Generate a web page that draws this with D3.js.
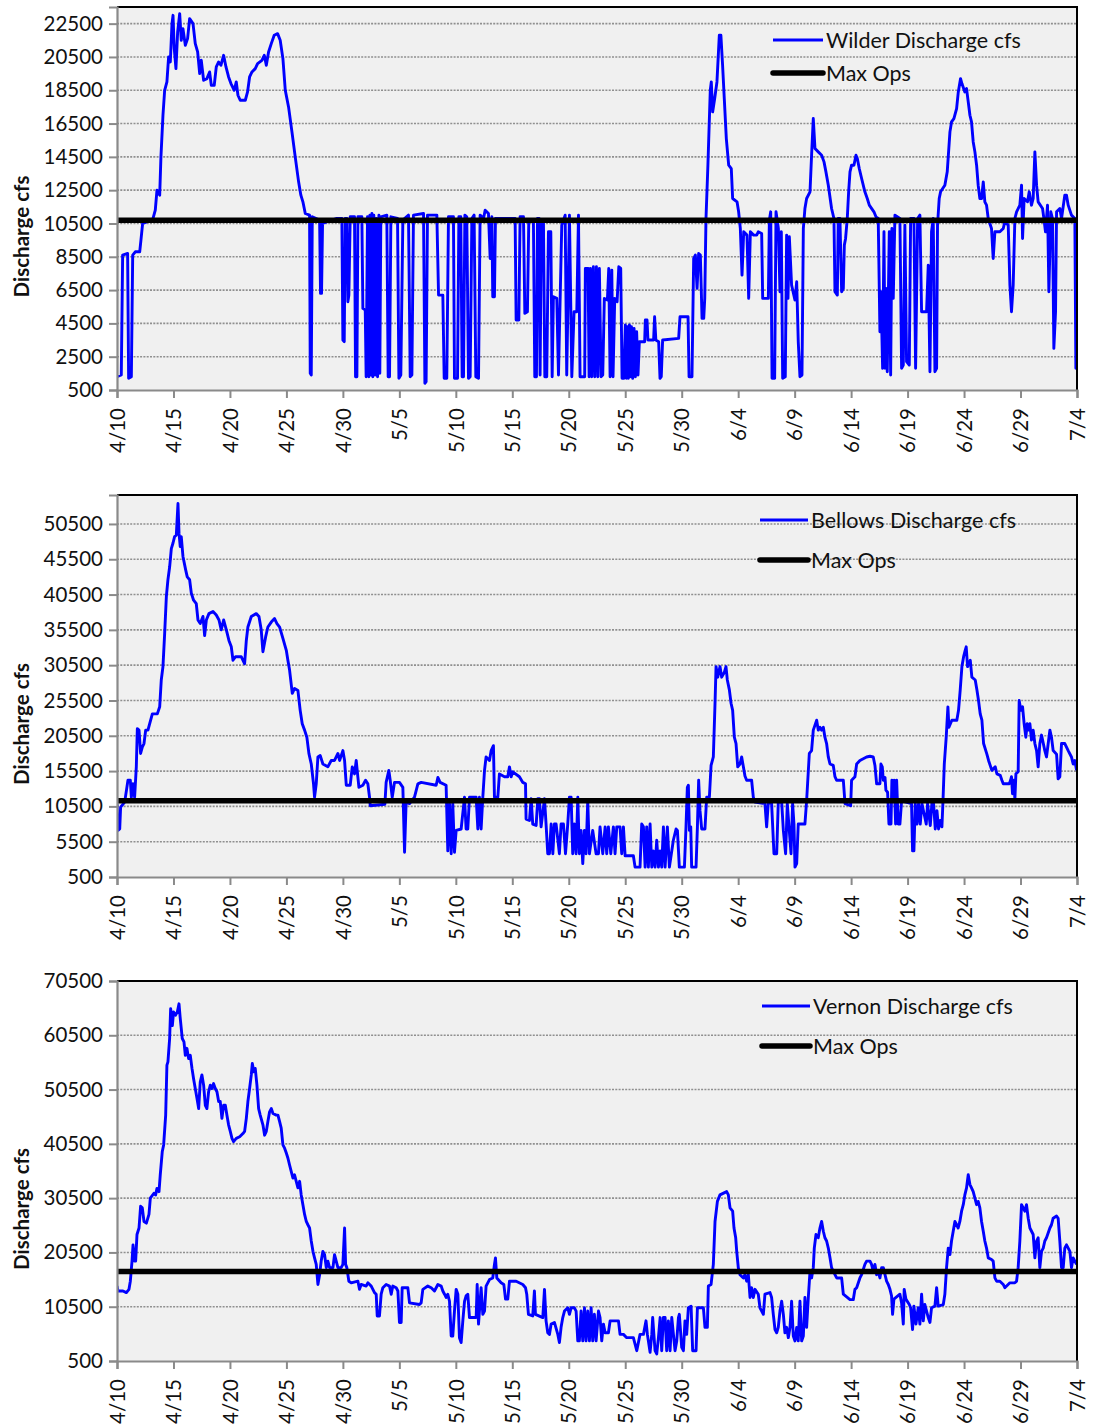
<!DOCTYPE html>
<html>
<head>
<meta charset="utf-8">
<script src="https://cdn.jsdelivr.net/npm/d3@7/dist/d3.min.js"></script>
<style>
  html, body { margin: 0; padding: 0; background: #ffffff; }
  svg { display: block; }
  text { font-family: Lato, "Open Sans", sans-serif; fill: #111; }
</style>
</head>
<body>
<svg id="chart" width="1093" height="1427"></svg>
<script>
// ---------------- DATA ----------------
// Dates on the x axis, one tick every 5 days starting 4/10
const dateLabels = ["4/10","4/15","4/20","4/25","4/30","5/5","5/10","5/15","5/20","5/25","5/30","6/4","6/9","6/14","6/19","6/24","6/29","7/4"];
const tickStepDays = 5;

// Max Ops levels (cfs) for Wilder, Bellows, Vernon
const maxOps = [10700, 11300, 17000];

// Y tick values for each panel
const wilderTicks  = [500,2500,4500,6500,8500,10500,12500,14500,16500,18500,20500,22500];
const bellowsTicks = [500,5500,10500,15500,20500,25500,30500,35500,40500,45500,50500];
const vernonTicks  = [500,10500,20500,30500,40500,50500,60500,70500];
const yMaxes = [23500, 54600, 70500];

// Series: [days since 4/10, discharge cfs]
const wilder = [
[0.00,1300],[0.38,1400],[0.50,8600],[0.94,8700],[1.03,1200],[1.27,1300],[1.39,8600],[1.62,8800],[2.01,8800],[2.12,9500],
[2.27,10500],[2.65,10600],[3.19,10800],[3.39,11300],[3.54,12500],[3.78,12200],[3.89,14500],[4.07,17000],[4.22,18500],[4.42,19000],
[4.57,20500],[4.72,20200],[4.87,22500],[4.96,23000],[5.07,21000],[5.22,19800],[5.37,22000],[5.55,23100],[5.69,21500],[5.84,22200],
[6.05,21200],[6.25,21600],[6.43,22800],[6.73,22500],[6.93,21300],[7.14,20800],[7.32,19500],[7.46,20300],[7.67,19100],[7.96,19200],
[8.20,19600],[8.35,18800],[8.61,18800],[8.79,19900],[9.00,20200],[9.20,20000],[9.44,20600],[9.65,19900],[9.88,19300],[10.09,18900],
[10.38,18500],[10.56,19000],[10.71,18200],[10.91,17900],[11.36,17900],[11.56,18400],[11.74,19300],[11.95,19600],[12.24,19800],[12.45,20100],
[12.83,20300],[13.04,20600],[13.22,20000],[13.42,20800],[13.66,21300],[13.92,21800],[14.22,21900],[14.45,21500],[14.69,20400],[14.90,18500],
[15.19,17500],[15.49,16000],[15.78,14500],[16.08,13000],[16.28,12200],[16.46,11800],[16.67,11100],[17.05,11000],[17.11,1500],[17.20,1400],
[17.29,10900],[17.94,10700],[18.02,6300],[18.11,6300],[18.20,10500],[19.47,10800],[19.91,10800],[20.00,3500],[20.12,3400],[20.21,10800],
[20.35,10800],[20.44,5800],[20.53,6200],[20.65,10900],[21.03,10900],[21.12,1300],[21.24,1300],[21.33,10900],[21.68,10900],[21.77,5400],
[21.98,5300],[22.06,1300],[22.18,10900],[22.30,1300],[22.39,11000],[22.48,1400],[22.57,11100],[22.65,1300],[22.74,11000],[22.86,1400],
[22.95,10800],[23.07,1300],[23.19,11000],[23.27,1500],[23.36,10900],[23.89,11000],[24.01,1300],[24.13,1300],[24.25,10900],[24.84,10800],
[24.96,1200],[25.13,1400],[25.31,10700],[25.81,11000],[25.96,1300],[26.11,1400],[26.25,11000],[27.14,11100],[27.26,900],[27.37,1000],
[27.49,11000],[28.32,11000],[28.47,6200],[28.85,6200],[28.97,1200],[29.20,1200],[29.35,10900],[29.79,10900],[29.88,1200],[30.15,1200],
[30.27,10900],[30.44,10900],[30.56,1300],[30.68,1300],[30.80,11000],[30.97,10900],[31.12,1200],[31.27,1300],[31.42,10800],[31.62,11000],
[31.77,1300],[32.01,1200],[32.15,11000],[32.45,10800],[32.60,11300],[32.89,11100],[33.04,8400],[33.19,10900],[33.27,6100],[33.42,6100],
[33.51,10800],[35.10,10800],[35.25,10800],[35.34,4700],[35.58,4700],[35.69,10900],[35.99,10900],[36.11,5100],[36.34,5200],[36.46,10700],
[36.87,10700],[36.99,1300],[37.14,1300],[37.23,10800],[37.37,10800],[37.46,1400],[37.58,10700],[37.76,10500],[37.88,1300],[38.05,1300],
[38.20,10000],[38.41,10000],[38.53,1300],[38.64,6100],[38.94,6000],[39.09,1400],[39.38,10400],[39.68,11000],[39.82,1400],[40.06,11000],
[40.27,1300],[40.47,5200],[40.71,5200],[40.86,11000],[41.00,1300],[41.24,1300],[41.41,1300],[41.47,7800],[41.71,7800],[41.80,1300],
[41.92,7800],[42.03,1300],[42.18,7900],[42.30,1300],[42.45,7900],[42.57,1300],[42.71,7800],[42.86,1300],[43.01,1400],[43.15,6000],
[43.42,5900],[43.54,7800],[43.66,1300],[43.81,7700],[43.92,1300],[44.07,6000],[44.28,5800],[44.43,7900],[44.60,7800],[44.72,1200],
[44.87,1200],[45.01,4400],[45.10,1200],[45.19,4300],[45.28,1200],[45.37,4400],[45.46,1300],[45.55,4300],[45.66,1200],[45.78,4200],
[45.90,1300],[46.01,4000],[46.13,1400],[46.25,3400],[46.72,3400],[46.78,4700],[46.93,4700],[47.01,3500],[47.51,3500],[47.60,4900],
[47.71,3500],[47.96,3400],[48.08,1200],[48.19,1300],[48.31,3500],[49.73,3600],[49.85,4900],[50.56,4900],[50.65,1300],[50.91,1300],
[51.06,8400],[51.21,8600],[51.36,6600],[51.50,8700],[51.65,8600],[51.80,4800],[51.95,4800],[52.04,6000],[52.15,10800],[52.32,14000],
[52.53,18500],[52.62,19000],[52.74,17200],[52.92,18000],[53.12,19000],[53.33,21800],[53.47,21800],[53.62,20000],[53.77,18000],[53.95,15600],
[54.16,14000],[54.39,13800],[54.51,12000],[54.90,11800],[55.04,11200],[55.19,10200],[55.34,7400],[55.49,10000],[55.78,9800],[55.93,6000],
[56.08,10000],[56.37,9800],[56.64,9800],[56.78,10000],[57.08,9900],[57.17,6000],[57.67,6000],[57.76,10700],[57.88,11200],[58.00,1200],
[58.23,1200],[58.35,11200],[58.56,10200],[58.70,6400],[58.82,10000],[58.94,1200],[59.17,1300],[59.29,9800],[59.41,6000],[59.53,9700],
[59.73,6800],[60.03,5900],[60.18,7000],[60.32,3400],[60.47,1300],[60.65,1400],[60.77,10200],[60.91,11400],[61.06,12000],[61.36,12400],
[61.50,14600],[61.65,16800],[61.80,15000],[62.09,14800],[62.39,14600],[62.60,14200],[62.77,13600],[62.98,12800],[63.27,11400],[63.48,10800],
[63.57,6400],[63.78,6200],[63.86,10800],[64.01,10800],[64.16,6400],[64.31,6600],[64.40,9200],[64.51,9600],[64.66,10800],[64.78,12400],
[64.90,13600],[65.04,14000],[65.25,14000],[65.43,14600],[65.55,14400],[65.72,13800],[65.93,13200],[66.22,12400],[66.43,12000],[66.61,11600],
[67.02,11200],[67.20,10900],[67.40,10800],[67.55,4000],[67.64,6400],[67.79,1800],[67.91,10000],[68.00,1800],[68.08,6600],[68.20,1600],
[68.38,10000],[68.50,1400],[68.61,10200],[68.73,6000],[68.88,11000],[69.32,10800],[69.47,1800],[69.62,2000],[69.76,10400],[69.91,2200],
[70.15,2000],[70.27,10800],[70.56,10800],[70.71,1800],[70.89,10800],[71.09,11000],[71.24,5200],[71.68,5200],[71.83,8000],[71.98,1600],
[72.12,10000],[72.27,10800],[72.42,1600],[72.57,1800],[72.65,10400],[72.80,12000],[72.92,12400],[73.30,12800],[73.51,13600],[73.75,16000],
[73.89,16600],[74.10,16800],[74.34,17400],[74.49,18400],[74.69,19200],[74.81,18900],[75.07,18400],[75.22,18600],[75.37,17800],[75.52,17000],
[75.66,16600],[75.81,15400],[75.96,14800],[76.11,14000],[76.25,12800],[76.40,12000],[76.55,12000],[76.70,13000],[76.84,11800],[76.99,11600],
[77.14,10800],[77.43,10200],[77.58,8400],[77.73,10000],[78.17,10000],[78.47,10200],[78.61,10600],[78.91,10400],[79.06,6800],[79.20,5200],
[79.35,6800],[79.50,10800],[79.65,11200],[79.94,11600],[80.09,12800],[80.18,9600],[80.32,12000],[80.62,11800],[80.77,12400],[80.97,11600],
[81.12,12000],[81.27,14800],[81.42,12800],[81.56,11800],[81.95,11400],[82.07,10800],[82.21,10000],[82.39,11600],[82.51,6400],[82.68,11200],
[82.83,10800],[82.95,3000],[83.10,5200],[83.19,11200],[83.48,11400],[83.63,10800],[83.92,12200],[84.07,12200],[84.22,11600],[84.51,11000],
[84.81,10800],[84.90,1800],[84.96,2000]
];

const bellows = [
[0.00,10900],[0.09,7100],[0.24,7300],[0.32,10400],[0.68,11100],[0.97,14200],[1.18,14200],[1.27,11800],[1.42,13700],[1.56,11800],
[1.71,16100],[1.80,21500],[1.95,21300],[2.09,18000],[2.24,18900],[2.39,19400],[2.54,21300],[2.74,21300],[2.89,22200],[3.13,23600],
[3.57,23600],[3.78,24600],[3.92,28400],[4.07,30300],[4.22,35000],[4.37,40200],[4.51,42600],[4.66,44400],[4.81,47000],[4.96,47800],
[5.10,48700],[5.25,48900],[5.40,53400],[5.49,49200],[5.60,47300],[5.69,48700],[5.84,45900],[6.08,44000],[6.22,43000],[6.43,42600],
[6.58,40700],[6.78,39700],[7.02,39200],[7.17,36900],[7.37,36400],[7.61,37400],[7.76,34700],[7.91,36900],[8.14,37800],[8.50,38100],
[8.79,37600],[9.03,36900],[9.23,35500],[9.44,36900],[9.68,35500],[9.91,34000],[10.12,33100],[10.27,31200],[10.50,31700],[11.00,31700],
[11.30,30700],[11.45,34000],[11.59,35900],[11.89,37400],[12.33,37800],[12.57,37400],[12.77,35500],[12.92,32400],[13.16,34500],[13.36,35900],
[13.66,36600],[13.95,37100],[14.16,36400],[14.40,35900],[14.69,34300],[14.99,32600],[15.13,31200],[15.28,29800],[15.52,26500],[15.72,27200],
[16.02,26900],[16.22,24100],[16.40,22200],[16.61,21300],[16.81,20300],[16.99,18000],[17.20,16500],[17.40,13700],[17.49,11800],[17.64,13700],
[17.79,17500],[17.99,17700],[18.23,16500],[18.67,16100],[18.97,17000],[19.26,17000],[19.56,18000],[19.71,17000],[20.00,18400],[20.15,17000],
[20.30,13500],[20.65,13500],[20.83,16100],[21.03,15100],[21.18,17000],[21.33,14600],[21.42,13200],[21.77,13500],[22.01,14200],[22.21,13700],
[22.36,11800],[22.42,10600],[23.72,10800],[23.83,13900],[24.07,15600],[24.19,14200],[24.37,11800],[24.57,13900],[25.01,13900],[25.31,13200],
[25.46,4000],[25.60,11100],[25.90,10900],[26.34,11800],[26.64,13700],[26.93,13900],[28.26,13500],[28.41,14600],[28.61,13900],[29.14,13500],
[29.29,4200],[29.44,10900],[29.59,3800],[29.73,10900],[29.88,4000],[30.03,7100],[30.47,7300],[30.77,11800],[30.91,7300],[31.06,7300],
[31.21,11800],[31.80,11800],[31.95,7300],[32.09,11800],[32.24,7300],[32.39,11800],[32.54,15600],[32.68,17500],[32.98,17000],[33.13,18400],
[33.33,19100],[33.42,11800],[33.72,11800],[33.86,15100],[34.31,14700],[34.60,14700],[34.75,16100],[34.90,14700],[35.04,15400],[35.63,14700],
[35.93,13900],[36.17,13700],[36.22,8700],[36.52,8500],[36.67,11600],[36.81,8000],[37.11,7800],[37.26,11600],[37.40,11600],[37.55,7600],
[37.85,11600],[37.99,8000],[38.14,3800],[38.29,3800],[38.44,8000],[38.59,3800],[38.73,8000],[38.88,8000],[39.17,3800],[39.32,8000],
[39.53,8000],[39.71,3800],[39.91,8000],[40.06,11800],[40.21,11800],[40.35,3800],[40.50,8000],[40.65,3800],[40.80,11800],[40.94,3800],
[41.09,7100],[41.24,2400],[41.39,7100],[41.53,3800],[41.68,11300],[41.83,3800],[42.12,7100],[42.42,3800],[42.63,3800],[42.77,7600],
[43.01,3800],[43.22,7600],[43.36,3800],[43.51,7600],[43.72,3800],[43.95,7600],[44.10,3800],[44.25,7600],[44.54,7600],[44.69,3800],
[44.84,7600],[44.99,3500],[45.72,3500],[45.87,1900],[46.31,1900],[46.46,8000],[46.61,7600],[46.76,1900],[46.90,7600],[47.05,1900],
[47.20,8000],[47.35,1900],[47.49,4200],[47.64,1900],[47.79,5700],[47.94,1900],[48.09,4200],[48.23,1900],[48.38,7600],[48.53,1900],
[48.73,7600],[48.91,1900],[49.26,5700],[49.50,7300],[49.62,7100],[49.79,1900],[50.24,1900],[50.38,7600],[50.50,13200],[50.59,13500],
[50.68,7100],[50.80,7600],[50.88,1900],[51.27,1900],[51.39,7600],[51.50,14200],[51.62,9900],[51.77,7300],[52.06,7300],[52.21,11800],
[52.45,11800],[52.60,16300],[52.80,17500],[52.95,25100],[53.04,30300],[53.19,28800],[53.39,30300],[53.54,28800],[53.78,29500],[53.92,30300],
[54.04,28400],[54.22,27000],[54.37,25100],[54.51,24100],[54.66,20300],[54.81,19400],[54.96,16100],[55.16,16500],[55.31,17500],[55.46,16100],
[55.60,14800],[55.75,14200],[56.19,14200],[56.34,11800],[56.49,11100],[57.37,10900],[57.52,7600],[57.67,11100],[57.96,10900],[58.17,3800],
[58.41,3800],[58.55,11100],[58.85,11100],[59.00,7100],[59.20,3800],[59.35,10900],[59.50,7600],[59.68,3800],[59.82,10900],[59.94,8000],
[60.03,1900],[60.18,2400],[60.32,8000],[60.91,8000],[61.06,11300],[61.30,18000],[61.50,18400],[61.65,21300],[61.95,22700],[62.09,21300],
[62.24,21700],[62.39,21300],[62.54,21700],[62.68,20300],[62.83,19400],[62.98,17500],[63.13,16500],[63.42,16300],[63.57,14700],[63.72,14200],
[64.31,14200],[64.46,10900],[64.96,10600],[65.04,14200],[65.34,14700],[65.49,16500],[65.78,17000],[66.37,17500],[66.67,17600],[66.96,17500],
[67.11,16300],[67.26,13700],[67.55,13700],[67.64,16500],[67.76,16100],[67.85,14200],[68.00,14600],[68.08,12800],[68.23,12500],[68.35,8000],
[68.53,8000],[68.61,14200],[68.73,11300],[68.82,14200],[68.94,8000],[69.03,14200],[69.17,8000],[69.32,8000],[69.47,11300],[70.35,10900],
[70.44,4200],[70.56,4200],[70.68,10900],[70.83,8000],[70.97,10900],[71.12,8000],[71.27,10900],[71.65,8000],[71.77,10900],[72.01,7800],
[72.15,10900],[72.30,10900],[72.45,7300],[72.60,9900],[72.74,7300],[72.89,8500],[73.04,7600],[73.13,11100],[73.25,16500],[73.42,20300],
[73.57,24600],[73.66,21700],[73.92,22700],[74.36,22700],[74.51,24100],[74.66,27000],[74.81,30300],[74.96,31700],[75.10,32600],[75.19,33100],
[75.31,30300],[75.55,31200],[75.69,28800],[75.99,28400],[76.14,27000],[76.28,25500],[76.43,23600],[76.58,22700],[76.73,19400],[77.02,17900],
[77.17,17000],[77.46,15600],[77.76,16100],[77.91,15100],[78.20,14900],[78.35,14200],[78.47,13700],[79.00,13700],[79.12,14200],[79.20,14700],
[79.29,12300],[79.41,14200],[79.50,11500],[79.59,15100],[79.79,15400],[79.88,25500],[80.03,24100],[80.18,24600],[80.32,22200],[80.47,20300],
[80.59,22200],[80.71,21300],[80.83,22200],[80.97,19900],[81.12,21300],[81.27,19400],[81.42,18400],[81.56,16100],[81.71,19400],[81.86,20600],
[82.15,18400],[82.30,17500],[82.45,19400],[82.60,21300],[82.74,20300],[82.89,18400],[83.19,17900],[83.33,14400],[83.48,14700],[83.63,19400],
[83.92,19400],[84.22,18400],[84.51,17500],[84.66,16500],[84.81,17000],[84.96,15600]
];

const vernon = [
[0.00,14300],[0.09,13400],[0.53,13400],[0.83,13100],[1.06,13700],[1.18,15200],[1.33,18900],[1.42,21900],[1.56,18900],[1.65,18900],
[1.77,23800],[1.95,25000],[2.09,29000],[2.24,28700],[2.39,26200],[2.60,25900],[2.83,27500],[2.95,30500],[3.27,31400],[3.42,31100],
[3.54,32300],[3.72,31700],[3.83,34800],[4.01,39100],[4.13,40300],[4.31,45800],[4.42,55000],[4.51,55600],[4.66,59900],[4.75,65400],
[4.90,62300],[5.01,64800],[5.19,64200],[5.34,64800],[5.49,66300],[5.60,63600],[5.78,59900],[5.93,59300],[6.05,56800],[6.19,58100],
[6.34,56200],[6.49,56800],[6.64,54400],[6.78,52500],[6.93,50700],[7.08,48900],[7.23,47000],[7.37,51900],[7.52,53200],[7.67,51300],
[7.82,47600],[7.96,47000],[8.11,50100],[8.26,51300],[8.41,50700],[8.55,51600],[8.70,50700],[8.85,50100],[9.00,48300],[9.14,48300],
[9.29,45200],[9.44,47600],[9.59,47600],[9.73,45800],[9.88,44000],[10.03,42800],[10.18,41500],[10.32,40900],[10.56,41500],[10.86,41800],
[11.15,42400],[11.30,42800],[11.45,45200],[11.59,48300],[11.74,50700],[11.89,53200],[11.98,55300],[12.12,53800],[12.24,54400],[12.39,51300],
[12.54,47000],[12.68,45800],[12.92,44000],[13.07,42100],[13.22,42800],[13.36,44600],[13.51,46400],[13.66,47000],[13.81,46100],[14.10,45800],
[14.25,45800],[14.40,44600],[14.54,43400],[14.69,40300],[14.84,39700],[14.99,38800],[15.13,37900],[15.28,36600],[15.43,35400],[15.58,34200],
[15.72,34800],[15.87,33600],[16.02,32400],[16.17,33600],[16.31,31100],[16.46,29300],[16.61,27500],[16.76,26200],[16.90,25600],[17.05,25000],
[17.20,22600],[17.35,20700],[17.49,19500],[17.64,18300],[17.79,14600],[17.94,16400],[18.08,18900],[18.23,20700],[18.38,20100],[18.53,17700],
[18.67,18900],[18.82,17700],[19.12,17700],[19.26,20100],[19.41,18900],[19.56,17700],[19.85,17700],[20.00,18300],[20.15,25000],[20.24,18300],
[20.35,17700],[20.53,15200],[20.74,14900],[21.33,15200],[21.47,13700],[21.62,14600],[22.06,14300],[22.21,14900],[22.51,14300],[22.80,13100],
[22.95,12800],[23.04,8800],[23.24,8800],[23.39,12800],[23.54,14000],[23.83,14600],[24.13,14300],[24.28,12800],[24.42,14300],[24.72,14000],
[24.87,13400],[25.01,7600],[25.16,7600],[25.25,14000],[25.75,14000],[25.90,11200],[26.78,10900],[26.93,11200],[27.08,13700],[27.52,14300],
[27.82,14000],[28.11,13400],[28.41,14600],[28.70,14300],[28.85,13400],[29.00,12800],[29.14,12200],[29.29,12800],[29.44,11500],[29.59,5100],
[29.73,5100],[29.88,9700],[30.03,13700],[30.18,12800],[30.32,4800],[30.47,3900],[30.62,7900],[30.77,11500],[30.91,12500],[31.06,12800],
[31.21,8500],[31.80,8500],[31.89,14600],[32.01,7300],[32.15,11500],[32.24,14000],[32.39,9100],[32.54,9700],[32.68,14300],[32.98,15500],
[33.27,15800],[33.42,18300],[33.51,19500],[33.63,15800],[34.01,14900],[34.25,14600],[34.40,11900],[34.60,11900],[34.75,15200],[35.34,15200],
[35.93,14600],[36.17,14000],[36.28,12800],[36.43,9100],[36.81,8800],[36.96,13400],[37.05,9100],[37.70,8500],[37.85,13700],[37.99,7900],
[38.14,5700],[38.29,5400],[38.44,7300],[38.73,7600],[39.03,5400],[39.17,3900],[39.32,6700],[39.47,8500],[39.62,9700],[39.91,10300],
[40.06,9100],[40.21,10300],[40.50,10300],[40.65,9700],[40.80,4200],[40.94,4200],[41.09,9700],[41.24,4200],[41.39,10300],[41.53,4200],
[41.68,9700],[41.83,4200],[41.98,10300],[42.12,4200],[42.27,9100],[42.42,4200],[42.63,9700],[42.77,8500],[42.92,4200],[43.07,7300],
[43.22,5700],[43.51,5700],[43.66,7900],[44.40,7900],[44.54,5400],[44.84,5400],[45.13,4800],[45.72,4800],[46.02,2400],[46.31,5400],
[46.61,5400],[46.84,7900],[46.96,5400],[47.20,2100],[47.35,5400],[47.43,8500],[47.64,2400],[47.79,1800],[47.94,4800],[48.09,8500],
[48.23,2400],[48.38,8500],[48.53,8500],[48.67,2400],[48.82,7900],[48.97,2400],[49.12,8500],[49.41,2400],[49.56,4200],[49.71,8500],
[49.79,9100],[50.00,3000],[50.15,2400],[50.29,7900],[50.44,5400],[50.59,10300],[50.83,10600],[50.97,2400],[51.27,2400],[51.39,10300],
[51.92,10300],[52.06,6700],[52.27,6700],[52.36,14300],[52.60,14600],[52.80,18300],[52.95,26200],[53.16,29900],[53.39,31100],[53.98,31700],
[54.13,31100],[54.28,28700],[54.51,28100],[54.63,25000],[54.78,23200],[54.87,20700],[55.01,17700],[55.16,16400],[55.46,15800],[55.60,16400],
[55.75,15200],[55.90,16400],[56.05,12200],[56.19,14000],[56.34,12200],[56.49,13700],[56.78,12800],[56.93,10300],[57.23,9100],[57.37,12800],
[57.82,13100],[57.96,12200],[58.11,9100],[58.26,6300],[58.41,5700],[58.55,6700],[58.70,9700],[58.85,11500],[59.00,9100],[59.14,5700],
[59.29,6700],[59.44,4800],[59.59,6700],[59.73,11500],[59.88,5100],[60.03,4200],[60.18,6700],[60.32,4200],[60.47,11500],[60.62,4200],
[60.77,5100],[60.91,12200],[61.06,6700],[61.21,12200],[61.36,17000],[61.50,15800],[61.65,17700],[61.74,21300],[61.89,23800],[62.09,23200],
[62.24,25000],[62.39,26200],[62.54,24400],[62.68,23200],[62.83,22600],[62.98,21300],[63.13,19500],[63.27,17700],[63.42,17000],[63.72,15800],
[64.16,15800],[64.31,12800],[64.90,11800],[65.19,11800],[65.34,13700],[65.49,14000],[65.78,15800],[65.93,16400],[66.22,18300],[66.37,18900],
[66.67,18900],[66.81,18300],[66.96,17000],[67.11,18300],[67.26,16400],[67.40,17000],[67.55,15800],[67.70,17700],[67.85,17700],[68.14,15200],
[68.29,14600],[68.44,13700],[68.58,12500],[68.67,9100],[68.79,11900],[69.32,12800],[69.47,11200],[69.62,7300],[69.70,13700],[69.85,11900],
[70.15,10900],[70.27,10300],[70.44,6300],[70.56,10600],[70.74,7300],[70.94,10300],[71.09,7300],[71.24,12800],[71.39,7900],[71.53,10900],
[71.83,8500],[71.98,7600],[72.12,10300],[72.42,10600],[72.57,14000],[72.71,10600],[73.16,10900],[73.30,12800],[73.45,17700],[73.60,21300],
[73.75,20100],[73.89,22600],[74.04,24400],[74.19,26200],[74.34,25600],[74.48,25000],[74.63,26200],[74.78,28100],[74.93,29300],[75.07,31100],
[75.22,32400],[75.37,34800],[75.52,33000],[75.66,32400],[75.81,31700],[75.96,30500],[76.11,29300],[76.25,29900],[76.40,28700],[76.55,26200],
[76.70,24400],[76.84,22600],[76.99,21300],[77.14,19500],[77.43,19200],[77.58,18900],[77.73,15800],[77.88,15200],[78.17,15200],[78.47,14600],
[78.61,14000],[79.06,14900],[79.50,14900],[79.65,15200],[79.79,17700],[79.94,22600],[80.09,29300],[80.24,28700],[80.38,28100],[80.53,29300],
[80.68,26800],[80.83,25000],[81.12,23800],[81.27,19500],[81.42,22600],[81.56,23200],[81.71,17700],[81.86,20700],[82.01,21300],[82.15,22600],
[82.30,23200],[82.60,25000],[82.74,25600],[82.89,26800],[83.19,27200],[83.33,26800],[83.48,22600],[83.63,17700],[83.78,17700],[83.92,21300],
[84.07,21900],[84.22,21300],[84.37,20700],[84.51,17700],[84.66,19500],[84.81,18900],[84.96,18300]
];

const seriesNames = ["Wilder Discharge cfs", "Bellows Discharge cfs", "Vernon Discharge cfs"];
const maxOpsName = "Max Ops";
const yAxisTitle = "Discharge cfs";

// ---------------- LAYOUT ----------------
const svg = d3.select("#chart");
const plotLeft = 117, plotRight = 1077;
const panels = [
  { top: 7,   bottom: 390,  yMax: yMaxes[0], ticks: wilderTicks,  data: wilder,  ops: maxOps[0], name: seriesNames[0], legX: 773, legY1: 40,   legY2: 73,   legLen: 50 },
  { top: 495, bottom: 877,  yMax: yMaxes[1], ticks: bellowsTicks, data: bellows, ops: maxOps[1], name: seriesNames[1], legX: 760, legY1: 520,  legY2: 560,  legLen: 48 },
  { top: 981, bottom: 1361, yMax: yMaxes[2], ticks: vernonTicks,  data: vernon,  ops: maxOps[2], name: seriesNames[2], legX: 762, legY1: 1006, legY2: 1046, legLen: 48 }
];

const nDays = (dateLabels.length - 1) * tickStepDays;
const x = d3.scaleLinear().domain([0, nDays]).range([plotLeft, plotRight]);
const dayTicks = dateLabels.map((d, i) => i * tickStepDays);

panels.forEach((p, idx) => {
  const y = d3.scaleLinear().domain([500, p.yMax]).range([p.bottom, p.top]);
  const g = svg.append("g");

  // plot background
  g.append("rect")
    .attr("x", plotLeft).attr("y", p.top)
    .attr("width", plotRight - plotLeft).attr("height", p.bottom - p.top)
    .attr("fill", "#f0f0f0");

  // gridlines
  g.append("g").selectAll("line")
    .data(p.ticks.filter(t => t > 500 && t < p.yMax))
    .join("line")
    .attr("x1", plotLeft).attr("x2", plotRight)
    .attr("y1", d => y(d)).attr("y2", d => y(d))
    .attr("stroke", "#8f8f8f").attr("stroke-width", 1.6)
    .attr("stroke-dasharray", "2,1.3");

  // clip
  const clipId = "clip" + idx;
  svg.append("clipPath").attr("id", clipId)
    .append("rect").attr("x", plotLeft).attr("y", p.top - 2)
    .attr("width", plotRight - plotLeft + 2).attr("height", p.bottom - p.top + 2);

  // series line
  const line = d3.line().x(d => x(d[0])).y(d => y(d[1]));
  g.append("path")
    .datum(p.data)
    .attr("clip-path", `url(#${clipId})`)
    .attr("d", line)
    .attr("fill", "none")
    .attr("stroke", "#0000ff")
    .attr("stroke-width", 2.9)
    .attr("stroke-linejoin", "round");

  // Max Ops line
  g.append("line")
    .attr("x1", x(0)).attr("x2", x(nDays))
    .attr("y1", y(p.ops)).attr("y2", y(p.ops))
    .attr("stroke", "#000").attr("stroke-width", 5.5);

  // top & right frame
  g.append("line").attr("x1", plotLeft).attr("x2", plotRight + 1)
    .attr("y1", p.top).attr("y2", p.top).attr("stroke", "#000").attr("stroke-width", 2);
  g.append("line").attr("x1", plotRight).attr("x2", plotRight)
    .attr("y1", p.top).attr("y2", p.bottom).attr("stroke", "#000").attr("stroke-width", 2);

  // y axis
  const yAxis = d3.axisLeft(y).tickValues(p.ticks).tickSize(8).tickPadding(6).tickFormat(d3.format("d"));
  const ya = g.append("g").attr("transform", `translate(${plotLeft},0)`).call(yAxis);
  ya.select(".domain").attr("stroke", "#8a8a8a").attr("stroke-width", 2.2);
  ya.selectAll(".tick line").attr("stroke", "#8a8a8a").attr("stroke-width", 2);
  ya.selectAll(".tick text").attr("font-size", 20.5).attr("font-family", "Lato, sans-serif").attr("fill", "#111");

  // x axis
  const xAxis = d3.axisBottom(x).tickValues(dayTicks).tickSize(8).tickFormat((d, i) => dateLabels[i]);
  const xa = g.append("g").attr("transform", `translate(0,${p.bottom})`).call(xAxis);
  xa.select(".domain").attr("stroke", "#8a8a8a").attr("stroke-width", 2.2);
  xa.selectAll(".tick line").attr("stroke", "#8a8a8a").attr("stroke-width", 2);
  xa.selectAll(".tick text")
    .attr("font-size", 20.5).attr("font-family", "Lato, sans-serif").attr("fill", "#111")
    .attr("text-anchor", "end")
    .attr("dy", "0.35em")
    .attr("transform", "translate(0,10) rotate(-90)")
    .attr("x", -8).attr("y", 0);

  // y title
  g.append("text")
    .attr("transform", `translate(21,${(p.top + p.bottom) / 2 + 38}) rotate(-90)`)
    .attr("text-anchor", "middle")
    .attr("dominant-baseline", "central")
    .attr("font-size", 20.5).attr("font-weight", "bold")
    .text(yAxisTitle);

  // legend
  g.append("line").attr("x1", p.legX).attr("x2", p.legX + p.legLen)
    .attr("y1", p.legY1).attr("y2", p.legY1).attr("stroke", "#0000ff").attr("stroke-width", 2.9);
  g.append("text").attr("x", p.legX + p.legLen + 3).attr("y", p.legY1)
    .attr("dominant-baseline", "central").attr("font-size", 21.5).text(p.name);
  g.append("line").attr("x1", p.legX).attr("x2", p.legX + p.legLen)
    .attr("y1", p.legY2).attr("y2", p.legY2).attr("stroke", "#000").attr("stroke-width", 5.5)
    .attr("stroke-linecap", "round");
  g.append("text").attr("x", p.legX + p.legLen + 3).attr("y", p.legY2)
    .attr("dominant-baseline", "central").attr("font-size", 21.5).text(maxOpsName);
});
</script>
</body>
</html>
